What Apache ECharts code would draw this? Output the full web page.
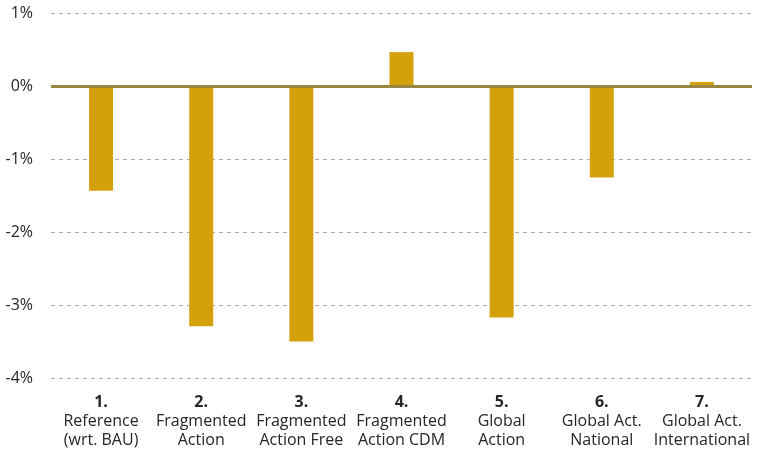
<!DOCTYPE html>
<html>
<head>
<meta charset="utf-8">
<script src="https://cdn.jsdelivr.net/npm/echarts@6/dist/echarts.min.js"></script>
<style>
  html, body { margin: 0; padding: 0; background: #ffffff; }
  #chart { width: 761px; height: 450px; }
</style>
</head>
<body>
<div id="chart"></div>
<script>
// Scenario numbers and names (shown in bold on the first label line)
const scenarioNumbers = ['1.', '2.', '3.', '4.', '5.', '6.', '7.'];
const scenarioNames = [
  'Reference\n(wrt. BAU)',
  'Fragmented\nAction',
  'Fragmented\nAction Free',
  'Fragmented\nAction CDM',
  'Global\nAction',
  'Global Act.\nNational',
  'Global Act.\nInternational'
];
// Change in percent per scenario
const changePct = [-1.43, -3.29, -3.50, 0.47, -3.17, -1.25, 0.06];
// Value axis range (percent)
const yMin = -4;
const yMax = 1;
const yStep = 1;

const FONT = '"Open Sans", "Noto Sans", sans-serif';
const categories = scenarioNumbers.map((n, i) => n + '\n' + scenarioNames[i]);

const chart = echarts.init(document.getElementById('chart'), null, { renderer: 'canvas' });
chart.setOption({
  animation: false,
  backgroundColor: '#ffffff',
  textStyle: { fontFamily: FONT },
  grid: { left: 51, right: 9, top: 13.5, bottom: 71.5, containLabel: false },
  xAxis: {
    type: 'category',
    data: categories,
    axisLine: { show: false, onZero: false },
    axisTick: { show: false },
    splitLine: { show: false },
    axisLabel: {
      margin: 15,
      interval: 0,
      color: '#262626',
      fontFamily: FONT,
      fontSize: 16,
      lineHeight: 19,
      formatter: function (v) {
        const parts = v.split('\n');
        return '{num|' + parts[0] + '}\n' + parts.slice(1).join('\n');
      },
      rich: {
        num: { fontWeight: 'bold', fontSize: 16, lineHeight: 19, color: '#262626', fontFamily: FONT }
      }
    }
  },
  yAxis: {
    type: 'value',
    min: yMin,
    max: yMax,
    interval: yStep,
    axisLine: { show: false },
    axisTick: { show: false },
    axisLabel: {
      margin: 18,
      color: '#262626',
      fontFamily: FONT,
      fontSize: 16,
      formatter: function (v) { return v + '%'; }
    },
    splitLine: {
      show: true,
      lineStyle: { color: '#b0b0b0', type: [4, 4], width: 1 }
    }
  },
  series: [{
    type: 'bar',
    data: changePct,
    barWidth: 24,
    itemStyle: { color: '#D4A00B' },
    markLine: {
      silent: true,
      symbol: 'none',
      label: { show: false },
      lineStyle: { color: '#978641', width: 3, type: 'solid' },
      data: [{ yAxis: 0 }]
    }
  }]
});
</script>
</body>
</html>
